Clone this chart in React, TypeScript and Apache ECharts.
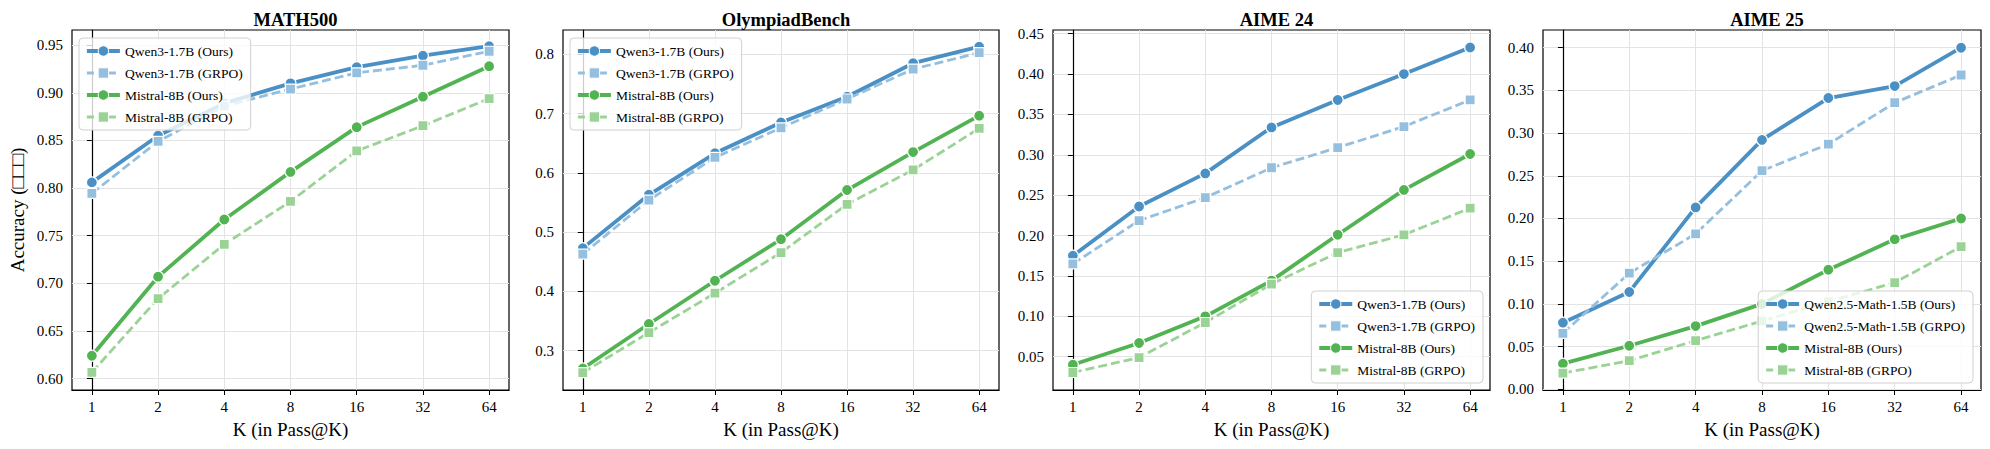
import React, { useEffect, useRef } from "react";
import * as echarts from "echarts";

const kLabels = ["1", "2", "4", "8", "16", "32", "64"];
const panelTitles = ["MATH500", "OlympiadBench", "AIME 24", "AIME 25"];

// MATH500
const mathQwenOurs = [0.806, 0.855, 0.889, 0.910, 0.927, 0.939, 0.949];
const mathQwenGrpo = [0.7945, 0.849, 0.886, 0.904, 0.921, 0.929, 0.9437];
const mathMistralOurs = [0.624, 0.707, 0.767, 0.817, 0.864, 0.896, 0.928];
const mathMistralGrpo = [0.6065, 0.684, 0.741, 0.786, 0.839, 0.8655, 0.894];

// OlympiadBench
const olyQwenOurs = [0.473, 0.563, 0.633, 0.685, 0.7285, 0.785, 0.8128];
const olyQwenGrpo = [0.463, 0.554, 0.626, 0.676, 0.7246, 0.775, 0.8027];
const olyMistralOurs = [0.270, 0.345, 0.418, 0.488, 0.571, 0.635, 0.6965];
const olyMistralGrpo = [0.263, 0.3305, 0.397, 0.4655, 0.547, 0.605, 0.675];

// AIME 24
const a24QwenOurs = [0.175, 0.236, 0.277, 0.334, 0.368, 0.400, 0.433];
const a24QwenGrpo = [0.165, 0.2186, 0.247, 0.284, 0.309, 0.335, 0.368];
const a24MistralOurs = [0.040, 0.067, 0.100, 0.1443, 0.201, 0.2566, 0.301];
const a24MistralGrpo = [0.0305, 0.049, 0.0924, 0.140, 0.179, 0.201, 0.234];

// AIME 25
const a25QwenOurs = [0.078, 0.114, 0.213, 0.292, 0.341, 0.355, 0.400];
const a25QwenGrpo = [0.0656, 0.136, 0.182, 0.256, 0.287, 0.3356, 0.368];
const a25MistralOurs = [0.030, 0.051, 0.074, 0.100, 0.140, 0.1756, 0.200];
const a25MistralGrpo = [0.019, 0.0335, 0.057, 0.080, 0.1026, 0.125, 0.167];

const namesQwen3 = ["Qwen3-1.7B (Ours)", "Qwen3-1.7B (GRPO)", "Mistral-8B (Ours)", "Mistral-8B (GRPO)"];
const namesQwen25 = ["Qwen2.5-Math-1.5B (Ours)", "Qwen2.5-Math-1.5B (GRPO)", "Mistral-8B (Ours)", "Mistral-8B (GRPO)"];

const yTicks1 = [0.6, 0.65, 0.7, 0.75, 0.8, 0.85, 0.9, 0.95];
const yTicks2 = [0.3, 0.4, 0.5, 0.6, 0.7, 0.8];
const yTicks3 = [0.05, 0.1, 0.15, 0.2, 0.25, 0.3, 0.35, 0.4, 0.45];
const yTicks4 = [0, 0.05, 0.1, 0.15, 0.2, 0.25, 0.3, 0.35, 0.4];

const FONT = "'Liberation Serif', 'Times New Roman', serif";
const COLORS = ["#4a90c4", "#94bfdf", "#52b352", "#9bd396"];

export default function App() {
  const ref = useRef<HTMLDivElement>(null);

  useEffect(() => {
    if (!ref.current) return;
    const chart = echarts.init(ref.current, undefined, { renderer: "svg" });

    const panels = [
      { data: [mathQwenOurs, mathQwenGrpo, mathMistralOurs, mathMistralGrpo], names: namesQwen3, ticks: yTicks1, min: 0.588, max: 0.966, dec: 2, left: 72, width: 437, legend: { left: 79, top: 38 } },
      { data: [olyQwenOurs, olyQwenGrpo, olyMistralOurs, olyMistralGrpo], names: namesQwen3, ticks: yTicks2, min: 0.2337, max: 0.841, dec: 1, left: 563, width: 436, legend: { left: 570, top: 38 } },
      { data: [a24QwenOurs, a24QwenGrpo, a24MistralOurs, a24MistralGrpo], names: namesQwen3, ticks: yTicks3, min: 0.0088, max: 0.4546, dec: 2, left: 1053, width: 437, legend: { right: 507, bottom: 66 } },
      { data: [a25QwenOurs, a25QwenGrpo, a25MistralOurs, a25MistralGrpo], names: namesQwen25, ticks: yTicks4, min: -0.0008, max: 0.4207, dec: 2, left: 1543, width: 438, legend: { right: 17, bottom: 66 } },
    ];

    const xIdx = kLabels.map((_, i) => i);

    const grid: any[] = [];
    const xAxis: any[] = [];
    const yAxis: any[] = [];
    const series: any[] = [];
    const legend: any[] = [];
    const title: any[] = [];

    panels.forEach((p, pi) => {
      grid.push({
        left: p.left, top: 30, width: p.width, height: 360,
        show: true, borderColor: "#000", borderWidth: 1.2, containLabel: false,
      });
      xAxis.push({
        type: "value", gridIndex: pi, min: -0.3, max: 6.3,
        name: "K (in Pass@K)", nameLocation: "middle", nameGap: 30,
        nameTextStyle: { fontFamily: FONT, fontSize: 19, color: "#000" },
        axisLine: { show: true, onZero: false, lineStyle: { color: "#000", width: 1.2 } },
        axisTick: { show: true, length: 5, lineStyle: { color: "#000" }, customValues: xIdx },
        axisLabel: {
          customValues: xIdx, margin: 9, fontFamily: FONT, fontSize: 15, color: "#000",
          formatter: (v: number) => kLabels[Math.round(v)] ?? "",
        },
        splitLine: { show: true, lineStyle: { color: "#e3e3e3", width: 1 } },
      });
      yAxis.push({
        type: "value", gridIndex: pi, min: p.min, max: p.max,
        name: pi === 0 ? "Accuracy (\u25a1\u25a1\u25a1)" : "",
        nameLocation: "middle", nameGap: 45,
        nameTextStyle: { fontFamily: FONT, fontSize: 19, color: "#000" },
        axisLine: { show: true, lineStyle: { color: "#000", width: 1.2 } },
        axisTick: { show: true, length: 5, lineStyle: { color: "#000" }, customValues: p.ticks },
        axisLabel: {
          customValues: p.ticks, margin: 9, fontFamily: FONT, fontSize: 15, color: "#000",
          formatter: (v: number) => v.toFixed(p.dec),
        },
        splitLine: { show: true, lineStyle: { color: "#e3e3e3", width: 1 } },
      });
      title.push({
        text: panelTitles[pi], left: p.left + p.width / 2, top: 5, textAlign: "center",
        textStyle: { fontFamily: FONT, fontSize: 18.5, fontWeight: "bold", color: "#000" },
      });
      p.data.forEach((vals, si) => {
        const ours = si % 2 === 0;
        series.push({
          type: "line", name: p.names[si], xAxisIndex: pi, yAxisIndex: pi,
          data: vals.map((v, i) => [i, v]),
          symbol: ours ? "circle" : "rect",
          symbolSize: ours ? 11 : 10,
          showSymbol: true,
          lineStyle: { color: COLORS[si], width: ours ? 3.8 : 2.8, type: ours ? "solid" : [9, 4] },
          itemStyle: { color: COLORS[si], borderColor: "#fff", borderWidth: 1.2 },
          z: 2 + si,
        });
      });
      legend.push({
        ...p.legend, orient: "vertical", z: 20,
        data: p.names.map((n, si) => {
          const ours = si % 2 === 0;
          return {
            name: n,
            itemStyle: { color: COLORS[si], borderColor: "#fff", borderWidth: 1 },
            lineStyle: { color: COLORS[si], width: ours ? 3.8 : 2.8, type: ours ? "solid" : [7, 4] },
          };
        }),
        itemWidth: 33, itemHeight: 13, itemGap: 8,
        padding: [6, 8, 6, 6],
        borderColor: "#d0d0d0", borderWidth: 1, borderRadius: 4,
        backgroundColor: "rgba(255,255,255,0.8)",
        textStyle: { fontFamily: FONT, fontSize: 13.5, color: "#000" },
        selectedMode: false,
      });
    });

    chart.setOption({
      animation: false,
      backgroundColor: "#fff",
      title, grid, xAxis, yAxis, series, legend,
    });

    return () => chart.dispose();
  }, []);

  return <div ref={ref} style={{ position: "fixed", left: 0, top: 0, width: 1990, height: 449 }} />;
}
